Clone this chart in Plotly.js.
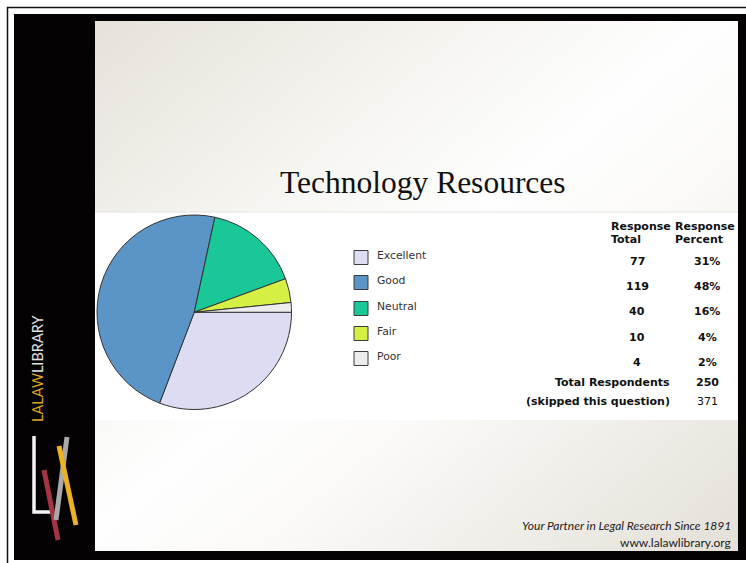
<!DOCTYPE html>
<html>
<head>
<meta charset="utf-8">
<script src="https://cdn.plot.ly/plotly-3.0.1.min.js"></script>
<style>
html, body { margin: 0; padding: 0; background: #ffffff; }
#wrap { position: relative; width: 746px; height: 563px; overflow: hidden; background: #ffffff; }
#grad { position: absolute; left: 95px; top: 21px; width: 643px; height: 530px;
  background: linear-gradient(to bottom right, #e6e2d9 0%, #f6f5f1 30%, #fefefe 48%, #fbfaf8 62%, #e4e0d8 100%); }
#chart { position: absolute; left: 0; top: 0; width: 746px; height: 563px; }
</style>
</head>
<body>
<div id="wrap">
  <div id="grad"></div>
  <div id="chart"></div>
</div>
<script>
// ---- data ----
var categories = ["Excellent", "Good", "Neutral", "Fair", "Poor"];
var responseTotals = [77, 119, 40, 10, 4];
var responsePercents = ["31%", "48%", "16%", "4%", "2%"];
var sliceColors = ["#dcdcf2", "#5b94c6", "#19c797", "#d5ef45", "#ececec"];
var totalRespondents = 250;
var skippedQuestion = 371;
var titleText = "Technology Resources";
var headerTotal = ["Response", "Total"];
var headerPercent = ["Response", "Percent"];

// ---- pixel helpers ----
var W = 746, H = 563;
function X(px) { return px / W; }
function Y(py) { return 1 - py / H; }

var shapes = [];
var annotations = [];

function rect(x0, y0, x1, y1, fill, lineColor, lineWidth) {
  shapes.push({type: "rect", xref: "paper", yref: "paper", layer: "below",
    x0: X(x0), x1: X(x1), y0: Y(y0), y1: Y(y1),
    fillcolor: fill, line: {color: lineColor || fill, width: lineWidth === undefined ? 0 : lineWidth}});
}
function seg(x0, y0, x1, y1, color, width, layer) {
  shapes.push({type: "line", xref: "paper", yref: "paper", layer: layer || "above",
    x0: X(x0), x1: X(x1), y0: Y(y0), y1: Y(y1), line: {color: color, width: width}});
}

// outer thin line
seg(7.5, 7, 7.5, 563, "#111", 1.5, "below");
seg(7, 7.5, 746, 7.5, "#111", 1.5, "below");
// thick black frame + sidebar
rect(14, 14, 95, 560, "#050203");
rect(14, 14, 746, 21, "#050203");
rect(738, 14, 746, 560, "#050203");
rect(14, 551, 746, 560, "#050203");
// white chart band
rect(95, 212, 738, 420, "#ffffff");
seg(95, 212, 738, 212, "#e6e4e0", 1, "below");

// logo
shapes.push({type: "path", xref: "paper", yref: "paper", layer: "above",
  path: "M " + X(34) + " " + Y(436) + " L " + X(34) + " " + Y(512) + " L " + X(51) + " " + Y(512),
  line: {color: "#f4f4f4", width: 3.5}});
seg(44, 470, 58, 540, "#a83441", 5);
seg(67, 437, 56, 520, "#a9a9a9", 5);
seg(59, 446, 76, 525, "#eab224", 5);

// sidebar vertical brand
annotations.push({xref: "paper", yref: "paper", x: X(37), y: Y(369), xanchor: "center", yanchor: "middle",
  showarrow: false, textangle: -90,
  text: "<span style='color:#dba521'>LALAW</span>LIBRARY",
  font: {family: "Lato, 'Open Sans', sans-serif", size: 14.5, color: "#e2e2e2"}});

// title
annotations.push({xref: "paper", yref: "paper", x: X(423), y: Y(183), xanchor: "center", yanchor: "middle",
  showarrow: false, text: titleText,
  font: {family: "'Liberation Serif', 'DejaVu Serif', serif", size: 31.5, color: "#111"}});

// legend (built from categories / colors)
var legendRowY = [257, 282, 308, 333, 358];
for (var i = 0; i < categories.length; i++) {
  var cy = legendRowY[i];
  shapes.push({type: "rect", xref: "paper", yref: "paper", layer: "above",
    x0: X(354), x1: X(368), y0: Y(cy + 7.5), y1: Y(cy - 6.5),
    fillcolor: sliceColors[i], line: {color: "#3c3c3c", width: 1}});
  annotations.push({xref: "paper", yref: "paper", x: X(375.5), y: Y(cy - 1.5), xanchor: "left", yanchor: "middle",
    showarrow: false, text: categories[i],
    font: {family: "'DejaVu Sans', Verdana, sans-serif", size: 10.8, color: "#333"}});
}

// table
var tf = {family: "'DejaVu Sans', Verdana, sans-serif", size: 11, color: "#111", weight: "bold"};
function bold(s) { return "<b>" + s + "</b>"; }
function tnote(x, y, txt, anchor, font) {
  annotations.push({xref: "paper", yref: "paper", x: X(x), y: Y(y), xanchor: anchor, yanchor: "middle",
    showarrow: false, text: txt, font: font || tf});
}
tnote(609, 227, bold(headerTotal[0]), "left");
tnote(609, 239.5, bold(headerTotal[1]), "left");
tnote(673, 227, bold(headerPercent[0]), "left");
tnote(673, 239.5, bold(headerPercent[1]), "left");
var rowY = [261, 286, 311, 337, 362];
for (var j = 0; j < responseTotals.length; j++) {
  tnote(637, rowY[j], bold(String(responseTotals[j])), "center");
  tnote(707, rowY[j], bold(responsePercents[j]), "center");
}
tnote(672, 382, bold("Total Respondents"), "right");
tnote(707, 382, bold(String(totalRespondents)), "center");
tnote(672, 401.5, bold("(skipped this question)"), "right");
tnote(707, 401.5, String(skippedQuestion), "center",
  {family: "'DejaVu Sans', Verdana, sans-serif", size: 11, color: "#111"});

// footer
annotations.push({xref: "paper", yref: "paper", x: X(733), y: Y(525), xanchor: "right", yanchor: "middle",
  showarrow: false, text: "<i>Your Partner in Legal Research Since 1891</i>",
  font: {family: "Lato, 'Open Sans', sans-serif", size: 12, color: "#222"}});
annotations.push({xref: "paper", yref: "paper", x: X(733), y: Y(542), xanchor: "right", yanchor: "middle",
  showarrow: false, text: "www.lalawlibrary.org",
  font: {family: "Lato, 'Open Sans', sans-serif", size: 12, color: "#222"}});

var trace = {
  type: "pie",
  labels: categories,
  values: responseTotals,
  sort: false,
  direction: "clockwise",
  rotation: 90,
  textinfo: "none",
  hoverinfo: "label+value+percent",
  marker: {colors: sliceColors, line: {color: "#333333", width: 1}},
  domain: {x: [X(97), X(291.5)], y: [Y(409.5), Y(215)]},
  showlegend: false
};

var layout = {
  width: W, height: H,
  margin: {l: 0, r: 0, t: 0, b: 0},
  paper_bgcolor: "rgba(0,0,0,0)",
  plot_bgcolor: "rgba(0,0,0,0)",
  showlegend: false,
  shapes: shapes,
  annotations: annotations
};

Plotly.newPlot("chart", [trace], layout, {displayModeBar: false, staticPlot: true});
</script>
</body>
</html>
